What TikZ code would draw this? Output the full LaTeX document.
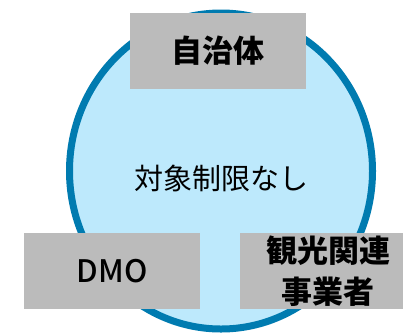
\documentclass[tikz,border=0pt]{standalone}
\usepackage{fontspec}
\newfontfamily\jpfont{Noto Sans CJK JP}
\newfontfamily\jpmed{Noto Sans CJK JP Medium}
\usepackage{tikz}
\usetikzlibrary{shapes}
\usetikzlibrary{positioning}
\definecolor{ringblue}{HTML}{007BB0}
\definecolor{ringfill}{HTML}{BDE9FC}
\definecolor{boxgray}{HTML}{BBBBBB}
\tikzstyle{grp}=[rectangle, fill=boxgray, minimum width=176pt, minimum
                height=76pt, inner sep=0pt, text=black, align=center,
                font=\jpfont\bfseries\fontsize{31}{41}\selectfont]
\tikzstyle{ctext}=[text=black, inner sep=0pt,
font=\jpfont\fontsize{29}{35}\selectfont]

\begin{document}
\begin{tikzpicture}[x=1pt,y=-1pt]
  \path[use as bounding box] (0,0) rectangle (403,333);
  \draw[ringblue, fill=ringfill, line width=7pt]
    (221,171) ellipse [x radius=151.5pt, y radius=158pt];
  \node[ctext] (all) at (221,178) {対象制限なし};
  \node[grp] (gov) at (218,51) {自治体};
  \node[grp, font=\jpmed\fontsize{31}{41}\selectfont] (dmo) at (112,271) {DMO};
  \node[grp] (biz) at (328,271) {観光関連\\事業者};
\end{tikzpicture}
\end{document}
